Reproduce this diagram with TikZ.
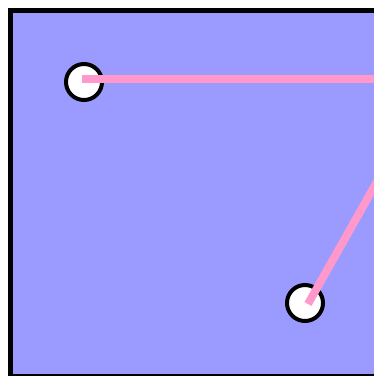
\documentclass[tikz,border=0pt]{standalone}
\definecolor{bgblue}{RGB}{155,155,255}
\definecolor{pinkline}{RGB}{255,153,204}
\begin{document}
\begin{tikzpicture}[x=1pt,y=-1pt,
  dot/.style={circle,draw=black,fill=white,line width=4pt,minimum size=36pt,inner sep=0pt},
  pinkseg/.style={draw=pinkline,line width=8pt}]
\useasboundingbox (0,0) rectangle (374,376);
\clip (0,0) rectangle (374,376);
\draw[fill=bgblue,line width=4.5pt] (10.5,10.5) rectangle (400,376.5);
\node[dot] (c1) at (84,82) {};
\node[dot] (c2) at (305,303) {};
\coordinate (e1) at (390,79);
\coordinate (e2) at (396,148);
\coordinate (s1) at (82,79);
\coordinate (s2) at (308,304);
\draw[pinkseg] (s1) -- (e1);
\draw[pinkseg] (s2) -- (e2);
\end{tikzpicture}
\end{document}
